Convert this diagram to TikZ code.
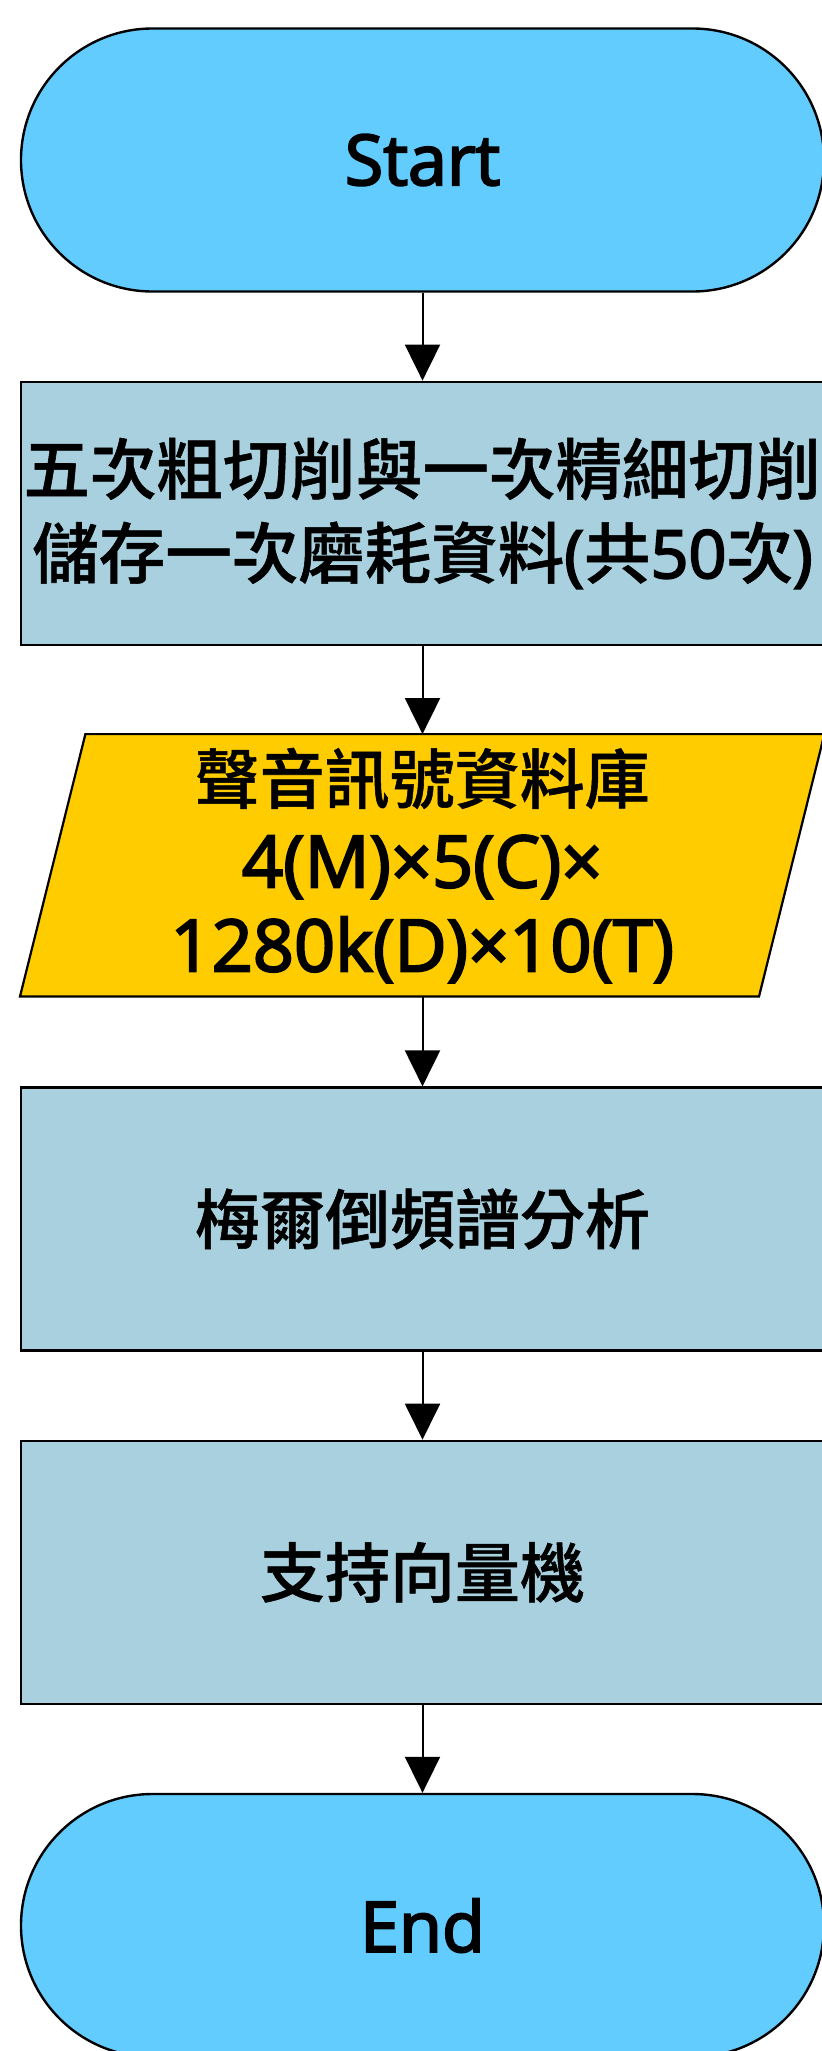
\documentclass[tikz,border=0pt]{standalone}
\usepackage{fontspec}
\newfontfamily\cjk{Noto Sans CJK TC}[UprightFont={* Medium},FakeBold=0.8]
\newfontfamily\lat{Open Sans}[FakeBold=3]
\usetikzlibrary{shapes.misc,arrows.meta,backgrounds}
\definecolor{termfill}{HTML}{63CCFF}
\definecolor{procfill}{HTML}{A8D0DE}
\definecolor{datafill}{HTML}{FFCC00}
\begin{document}
\begin{tikzpicture}[x=1pt,y=-1pt,
  termnode/.style={rounded rectangle, draw=black, line width=2.4pt, fill=termfill,
    minimum width=803pt, minimum height=263pt, inner sep=0pt,
    font=\lat\fontsize{70}{84}\selectfont},
  procnode/.style={rectangle, draw=black, line width=2.2pt, fill=procfill,
    minimum width=803pt, minimum height=263pt, inner sep=0pt, align=center,
    font=\cjk\fontsize{65}{84}\selectfont},
  datatext/.style={rectangle, minimum width=804pt, minimum height=262pt,
    inner sep=0pt, align=center, font=\cjk\fontsize{65}{84}\selectfont},
  databox/.style={draw=black, line width=2.2pt, fill=datafill},
  arr/.style={-{Triangle[length=36pt,width=35pt]}, line width=2pt}
]
\useasboundingbox (0,0) rectangle (822,2051);
\node[termnode] (start) at (422.5,160) {Start};
\node[procnode, font=\cjk\fontsize{66.5}{84}\selectfont] (cut) at (422.5,513.2)
  {五次粗切削與一次精細切削\\儲存一次磨耗資料{\lat(}共{\lat 50}次{\lat)}};
\node[datatext] (db) at (422.2,865.3)
  {聲音訊號資料庫\\{\lat\fontsize{72}{84}\selectfont 4(M)×5(C)×}\\{\lat\fontsize{72}{84}\selectfont 1280k(D)×10(T)}};
\begin{pgfonlayer}{background}
\draw[databox] ([xshift=65.4pt]db.north west) -- (db.north east)
  -- ([xshift=-65.4pt]db.south east) -- (db.south west) -- cycle;
\end{pgfonlayer}
\node[procnode] (mfcc) at (422.5,1219) {梅爾倒頻譜分析};
\node[procnode] (svm) at (422.5,1572.3) {支持向量機};
\node[termnode] (end) at (422.5,1925.5) {End};
\draw[arr] (start.south) -- (cut.north);
\draw[arr] (cut.south) -- (cut.south |- db.north);
\draw[arr] (cut.south |- db.south) -- (mfcc.north);
\draw[arr] (mfcc.south) -- (svm.north);
\draw[arr] (svm.south) -- (end.north);
\end{tikzpicture}
\end{document}
